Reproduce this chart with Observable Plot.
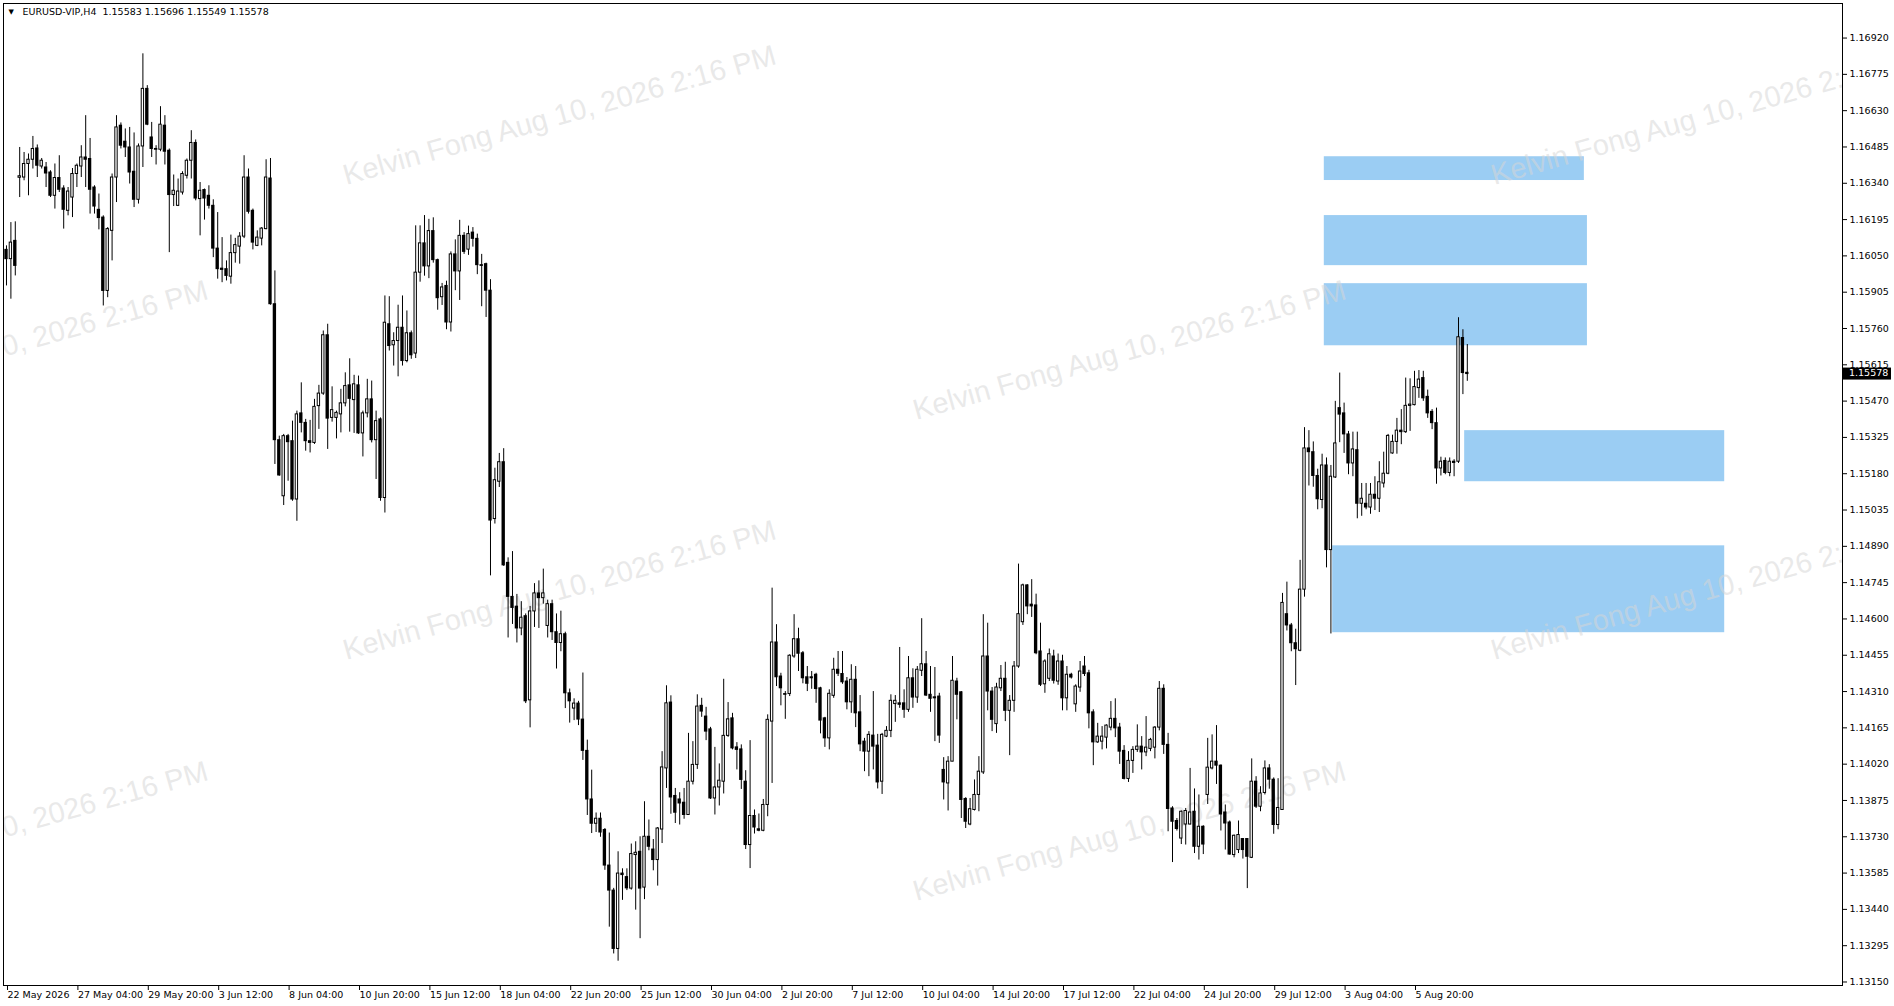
<!DOCTYPE html>
<html><head><meta charset="utf-8">
<script src="https://cdn.jsdelivr.net/npm/d3@7"></script>
<script src="https://cdn.jsdelivr.net/npm/@observablehq/plot@0.6"></script>
<style>
html,body{margin:0;padding:0;background:#fff;overflow:hidden}
#chart{position:relative;width:1894px;height:1006px}
</style></head><body><div id="chart"></div>
<script>
// ---- data (EURUSD-VIP, H4), bar index 0 = 22 May 2026 ----
const opens = [
1.16074,1.16037,1.16110,1.16362,1.16363,1.16417,1.16434,1.16479,1.16407,1.16403,
1.16383,1.16290,1.16361,1.16319,1.16230,1.16283,1.16377,1.16407,1.16443,1.16437,
1.16323,1.16234,1.16203,1.15910,1.16150,1.16363,1.16570,1.16506,1.16483,1.16386,
1.16274,1.16487,1.16717,1.16523,1.16477,1.16474,1.16570,1.16470,1.16293,1.16250,
1.16303,1.16370,1.16430,1.16501,1.16277,1.16313,1.16290,1.16250,
1.16079,1.15999,1.15997,1.15967,1.16061,1.16087,1.16127,1.16363,1.16230,1.16090,
1.16119,1.16157,1.16359,1.15857,1.15314,1.15090,1.15330,1.15310,1.15077,1.15421,
1.15383,1.15310,1.15303,1.15450,1.15500,1.15733,1.15403,1.15403,1.15417,1.15461,
1.15533,1.15474,1.15533,1.15341,1.15421,1.15477,1.15314,1.15397,1.15083,1.15777,
1.15693,1.15710,1.15763,1.15630,1.15741,1.15660,1.15983,
1.16100,1.16008,1.16149,1.16033,1.15885,1.15930,1.15784,1.16056,1.15988,1.16130,
1.16075,1.16143,1.16118,1.16013,1.16017,1.15911,1.14999,1.15148,1.15226,1.14824,
1.14688,1.14649,1.14562,1.14611,1.14275,1.14630,1.14702,1.14683,1.14572,1.14659,
1.14547,1.14504,1.14539,1.14303,1.14242,1.14262,1.14198,1.14073,1.13879,1.13782,
1.13802,1.13757,1.13615,1.13515,1.13282,1.13583,1.13569,
1.13523,1.13657,1.13670,1.13527,1.13730,1.13679,1.13637,1.13759,1.14003,1.14266,
1.13893,1.13879,1.13866,1.13817,1.13950,1.14017,1.14253,1.14210,1.14159,1.13883,
1.13927,1.13950,1.14133,1.14203,1.14087,1.14079,1.13950,1.13697,1.13813,1.13760,
1.13754,1.13857,1.14190,1.14506,1.14370,1.14297,1.14300,1.14450,1.14519,1.14463,
1.14367,1.14363,1.14377,1.14323,1.14203,1.14123,1.14293,1.14397,
1.14380,1.14350,1.14267,1.14357,1.14227,1.14110,1.14070,1.14134,1.14094,1.13950,
1.14130,1.14153,1.14260,1.14263,1.14263,1.14237,1.14363,1.14286,1.14393,1.14419,
1.14297,1.14287,1.14290,1.13997,1.13943,1.14030,1.14350,1.14307,1.13881,1.13779,
1.13837,1.13897,1.13987,1.14450,1.14310,1.14180,1.14323,1.14361,1.14233,1.14273,
1.14410,1.14587,1.14734,1.14657,1.14654,1.14470,1.14339,1.14361,
1.14450,1.14350,1.14430,1.14283,1.14377,1.14259,1.14326,1.14410,1.14383,1.14227,
1.14107,1.14110,1.14126,1.14166,1.14201,1.14166,1.14073,1.13961,1.14033,1.14077,
1.14090,1.14067,1.14081,1.14086,1.14166,1.14321,1.14097,1.13843,1.13793,1.13723,
1.13779,1.13779,1.13830,1.13690,1.13770,1.13897,1.14003,1.14030,1.14014,1.13827,
1.13787,1.13657,1.13677,1.13721,1.13721,1.13646,1.13950,1.13850,
1.13905,1.14003,1.13958,1.13777,1.13837,1.14619,1.14574,1.14503,1.14473,1.14717,
1.15281,1.15266,1.15171,1.15075,1.15213,1.14875,1.15165,1.15442,1.15421,1.15337,
1.15221,1.15274,1.15060,1.15060,1.15045,1.15096,1.15080,1.15141,1.15180,1.15261,
1.15307,1.15352,1.15346,1.15451,1.15454,1.15522,1.15562,1.15487,1.15427,1.15382,
1.15201,1.15231,1.15183,1.15228,1.15228,1.15722,1.15583];
const highs = [
1.16090,1.16183,1.16186,1.16483,1.16463,1.16457,1.16527,1.16493,1.16439,1.16423,
1.16390,1.16417,1.16450,1.16330,1.16323,1.16399,1.16417,1.16490,1.16610,1.16519,
1.16330,1.16297,1.16210,1.16163,1.16377,1.16610,1.16581,1.16557,1.16563,1.16541,
1.16497,1.16857,1.16730,1.16583,1.16490,1.16646,1.16610,1.16477,1.16373,1.16357,
1.16386,1.16437,1.16550,1.16513,1.16343,1.16317,1.16330,1.16274,
1.16223,1.16123,1.16030,1.16133,1.16120,1.16143,1.16450,1.16397,1.16237,1.16150,
1.16163,1.16434,1.16439,1.15990,1.15330,1.15337,1.15337,1.15390,1.15430,1.15543,
1.15397,1.15393,1.15477,1.15533,1.15750,1.15777,1.15527,1.15430,1.15517,1.15583,
1.15639,1.15573,1.15570,1.15430,1.15557,1.15550,1.15430,1.15403,1.15890,1.15887,
1.15743,1.15853,1.15890,1.15830,1.15750,1.16170,1.16170,
1.16211,1.16196,1.16202,1.16037,1.15940,1.15949,1.16066,1.16114,1.16192,1.16143,
1.16169,1.16163,1.16137,1.16056,1.16021,1.15955,1.15202,1.15261,1.15280,1.14844,
1.14869,1.14698,1.14669,1.14620,1.14650,1.14741,1.14752,1.14799,1.14675,1.14675,
1.14620,1.14631,1.14547,1.14320,1.14281,1.14271,1.14384,1.14116,1.13996,1.13825,
1.13825,1.13763,1.13745,1.13524,1.13670,1.13602,1.13602,
1.13701,1.13710,1.13730,1.13870,1.13797,1.13719,1.13767,1.14070,1.14333,1.14293,
1.13923,1.13906,1.13923,1.14143,1.14110,1.14297,1.14283,1.14247,1.14167,1.14087,
1.14021,1.14359,1.14266,1.14223,1.14106,1.14097,1.13994,1.14114,1.13837,1.13821,
1.13879,1.14217,1.14723,1.14577,1.14383,1.14310,1.14457,1.14617,1.14563,1.14470,
1.14410,1.14390,1.14383,1.14327,1.14207,1.14317,1.14443,1.14470,
1.14470,1.14366,1.14417,1.14410,1.14294,1.14123,1.14150,1.14310,1.14139,1.14143,
1.14170,1.14297,1.14294,1.14486,1.14317,1.14450,1.14401,1.14410,1.14601,1.14470,
1.14410,1.14406,1.14303,1.14046,1.14050,1.14450,1.14363,1.14310,1.13886,1.13883,
1.13957,1.14050,1.14617,1.14583,1.14326,1.14343,1.14414,1.14427,1.14294,1.14430,
1.14819,1.14739,1.14737,1.14757,1.14699,1.14583,1.14437,1.14480,
1.14475,1.14460,1.14455,1.14410,1.14383,1.14337,1.14430,1.14450,1.14395,1.14237,
1.14183,1.14170,1.14177,1.14270,1.14281,1.14183,1.14094,1.14070,1.14090,1.14177,
1.14130,1.14210,1.14123,1.14170,1.14350,1.14337,1.14143,1.13850,1.13803,1.13833,
1.13843,1.14003,1.13921,1.13897,1.13774,1.14123,1.14137,1.14174,1.14017,1.13857,
1.13793,1.13737,1.13793,1.13723,1.13723,1.14041,1.13970,1.13930,
1.14033,1.14018,1.13965,1.13962,1.14702,1.14747,1.14582,1.14559,1.14834,1.15364,
1.15352,1.15307,1.15198,1.15258,1.15243,1.15213,1.15469,1.15582,1.15462,1.15349,
1.15346,1.15346,1.15141,1.15141,1.15141,1.15168,1.15228,1.15266,1.15337,1.15334,
1.15401,1.15436,1.15562,1.15559,1.15589,1.15592,1.15589,1.15514,1.15436,1.15442,
1.15246,1.15243,1.15243,1.15236,1.15803,1.15755,1.15696];
const lows = [
1.15930,1.15877,1.15970,1.16283,1.16350,1.16290,1.16397,1.16363,1.16397,1.16323,
1.16283,1.16237,1.16303,1.16157,1.16210,1.16203,1.16323,1.16363,1.16323,1.16217,
1.16217,1.16154,1.15850,1.15883,1.16030,1.16263,1.16477,1.16443,1.16337,1.16243,
1.16257,1.16403,1.16570,1.16443,1.16413,1.16466,1.16413,1.16063,1.16247,1.16247,
1.16293,1.16357,1.16357,1.16270,1.16130,1.16193,1.16237,1.16043,
1.15957,1.15943,1.15950,1.15937,1.16021,1.16017,1.16119,1.16217,1.16074,1.16087,
1.16090,1.16154,1.15853,1.15217,1.15170,1.15053,1.15150,1.15070,1.14990,1.15343,
1.15270,1.15263,1.15297,1.15357,1.15493,1.15277,1.15386,1.15319,1.15343,1.15447,
1.15346,1.15341,1.15337,1.15247,1.15403,1.15303,1.15157,1.15070,1.15023,1.15670,
1.15610,1.15567,1.15610,1.15623,1.15637,1.15640,1.15945,
1.15969,1.15959,1.16021,1.15833,1.15852,1.15755,1.15746,1.15911,1.15872,1.16056,
1.16052,1.16085,1.15975,1.15847,1.15804,1.14772,1.14979,1.15125,1.14810,1.14524,
1.14578,1.14504,1.14533,1.14262,1.14165,1.14566,1.14562,1.14659,1.14524,1.14514,
1.14400,1.14469,1.14242,1.14184,1.14194,1.14174,1.14035,1.13815,1.13743,1.13747,
1.13728,1.13596,1.13369,1.13262,1.13233,1.13476,1.13515,
1.13517,1.13437,1.13323,1.13479,1.13674,1.13594,1.13533,1.13703,1.13923,1.13820,
1.13783,1.13777,1.13800,1.13817,1.13937,1.13999,1.14207,1.14114,1.13879,1.13817,
1.13853,1.13901,1.14127,1.14077,1.13997,1.13919,1.13679,1.13603,1.13741,1.13750,
1.13750,1.13810,1.13943,1.14330,1.14253,1.14199,1.14290,1.14443,1.14390,1.14341,
1.14310,1.14319,1.14263,1.14141,1.14087,1.14077,1.14283,1.14370,
1.14339,1.14237,1.14223,1.14166,1.14070,1.13990,1.13970,1.13997,1.13921,1.13899,
1.14126,1.14126,1.14187,1.14243,1.14203,1.14227,1.14243,1.14263,1.14370,1.14290,
1.14227,1.14110,1.14103,1.13877,1.13833,1.14030,1.14197,1.13803,1.13763,1.13774,
1.13833,1.13830,1.13979,1.14233,1.14150,1.14143,1.14310,1.14190,1.14054,1.14227,
1.14403,1.14574,1.14617,1.14606,1.14457,1.14330,1.14303,1.14350,
1.14340,1.14335,1.14233,1.14233,1.14360,1.14227,1.14307,1.14370,1.14161,1.14014,
1.14103,1.14077,1.14081,1.14153,1.14126,1.14019,1.13957,1.13947,1.13983,1.14067,
1.13997,1.14050,1.14070,1.14041,1.14153,1.14059,1.13750,1.13627,1.13753,1.13699,
1.13697,1.13777,1.13663,1.13637,1.13659,1.13859,1.13997,1.13939,1.13753,1.13677,
1.13657,1.13646,1.13663,1.13641,1.13523,1.13643,1.13843,1.13830,
1.13897,1.13920,1.13740,1.13758,1.13837,1.14552,1.14469,1.14334,1.14469,1.14687,
1.15131,1.15126,1.15036,1.15040,1.14804,1.14540,1.15161,1.15304,1.15261,1.15176,
1.15168,1.15000,1.15010,1.15036,1.15018,1.15033,1.15025,1.15123,1.15176,1.15258,
1.15258,1.15296,1.15341,1.15349,1.15451,1.15481,1.15469,1.15401,1.15356,1.15138,
1.15171,1.15176,1.15168,1.15168,1.15221,1.15496,1.15549];
const closes = [
1.16037,1.16103,1.16010,1.16368,1.16417,1.16434,1.16477,1.16410,1.16430,1.16379,
1.16290,1.16361,1.16314,1.16234,1.16307,1.16377,1.16410,1.16443,1.16434,1.16314,
1.16247,1.16201,1.15910,1.16157,1.16363,1.16563,1.16490,1.16483,1.16383,1.16274,
1.16487,1.16717,1.16574,1.16477,1.16474,1.16574,1.16466,1.16293,1.16310,1.16307,
1.16377,1.16430,1.16501,1.16279,1.16310,1.16279,1.16250,1.16079,
1.15997,1.15994,1.15970,1.16061,1.16093,1.16127,1.16363,1.16226,1.16103,1.16123,
1.16159,1.16363,1.15857,1.15314,1.15173,1.15330,1.15306,1.15077,1.15417,1.15383,
1.15310,1.15303,1.15447,1.15500,1.15733,1.15400,1.15434,1.15423,1.15461,1.15530,
1.15479,1.15537,1.15341,1.15421,1.15477,1.15314,1.15390,1.15083,1.15783,1.15690,
1.15710,1.15763,1.15630,1.15741,1.15653,1.15983,1.16100,
1.16008,1.16149,1.16033,1.15881,1.15924,1.15784,1.16056,1.15988,1.16130,1.16066,
1.16137,1.16118,1.16013,1.16010,1.15911,1.14993,1.15154,1.15226,1.14814,1.14688,
1.14644,1.14562,1.14605,1.14271,1.14630,1.14702,1.14683,1.14702,1.14659,1.14547,
1.14504,1.14539,1.14303,1.14271,1.14262,1.14198,1.14073,1.13879,1.13782,1.13802,
1.13747,1.13615,1.13515,1.13282,1.13583,1.13577,1.13524,
1.13661,1.13666,1.13523,1.13730,1.13690,1.13637,1.13763,1.14007,1.14263,1.13887,
1.13826,1.13863,1.13817,1.13950,1.14017,1.14250,1.14230,1.14150,1.13883,1.13927,
1.13954,1.14133,1.14199,1.14083,1.14077,1.13957,1.13697,1.13813,1.13767,1.13754,
1.13857,1.14197,1.14506,1.14367,1.14323,1.14300,1.14453,1.14519,1.14461,1.14363,
1.14341,1.14367,1.14320,1.14194,1.14123,1.14301,1.14397,1.14381,
1.14347,1.14267,1.14357,1.14223,1.14099,1.14070,1.14137,1.14090,1.13947,1.14137,
1.14153,1.14273,1.14273,1.14257,1.14237,1.14363,1.14286,1.14397,1.14419,1.14294,
1.14281,1.14283,1.14134,1.13947,1.14030,1.14353,1.14297,1.13877,1.13790,1.13840,
1.13897,1.13990,1.14450,1.14310,1.14197,1.14326,1.14361,1.14233,1.14273,1.14410,
1.14619,1.14734,1.14650,1.14650,1.14463,1.14337,1.14430,1.14459,
1.14353,1.14430,1.14283,1.14377,1.14366,1.14330,1.14390,1.14380,1.14223,1.14107,
1.14130,1.14130,1.14174,1.14201,1.14163,1.14070,1.13961,1.14033,1.14077,1.14090,
1.14067,1.14086,1.14117,1.14166,1.14321,1.14097,1.13841,1.13790,1.13761,1.13830,
1.13833,1.13827,1.13690,1.13770,1.13699,1.14006,1.14030,1.14014,1.13819,1.13783,
1.13659,1.13734,1.13737,1.13677,1.13650,1.13950,1.13850,1.13903,
1.14003,1.13958,1.13777,1.13845,1.14664,1.14574,1.14503,1.14479,1.14717,1.15281,
1.15266,1.15171,1.15078,1.15213,1.14875,1.15168,1.15301,1.15416,1.15337,1.15221,
1.15277,1.15060,1.15080,1.15045,1.15096,1.15080,1.15146,1.15180,1.15331,1.15307,
1.15352,1.15346,1.15451,1.15456,1.15526,1.15556,1.15481,1.15421,1.15382,1.15201,
1.15228,1.15183,1.15228,1.15223,1.15725,1.15582,1.15578];

// time axis labels (every 16 H4 bars)
const timeLabels = ["22 May 2026","27 May 04:00","29 May 20:00","3 Jun 12:00","8 Jun 04:00","10 Jun 20:00",
  "15 Jun 12:00","18 Jun 04:00","22 Jun 20:00","25 Jun 12:00","30 Jun 04:00","2 Jul 20:00","7 Jul 12:00",
  "10 Jul 04:00","14 Jul 20:00","17 Jul 12:00","22 Jul 04:00","24 Jul 20:00","29 Jul 12:00","3 Aug 04:00","5 Aug 20:00"];
const timeTickBars = [0,16,32,48,64,80,96,112,128,144,160,176,192,208,224,240,256,272,288,304,320];
// price axis labels
const priceTicks = [1.16920,1.16775,1.16630,1.16485,1.16340,1.16195,1.16050,1.15905,1.15760,1.15615,1.15470,
  1.15325,1.15180,1.15035,1.14890,1.14745,1.14600,1.14455,1.14310,1.14165,1.14020,1.13875,1.13730,1.13585,
  1.13440,1.13295,1.13150];
// supply / demand zones (bar index from/to, price top/bottom)
const zoneFrom = [299.5, 299.5, 299.5, 331.4, 301.4];
const zoneTo   = [358.6, 359.3, 359.3, 390.5, 390.5];
const zoneTop  = [1.16446, 1.16211, 1.15939, 1.15352, 1.14892];
const zoneBot  = [1.16351, 1.16011, 1.15691, 1.15148, 1.14545];
const symbolTitle = "EURUSD-VIP,H4  1.15583 1.15696 1.15549 1.15578";
const watermark = "Kelvin Fong Aug 10, 2026 2:16 PM";

const n = Math.min(opens.length, highs.length, lows.length, closes.length);
const bars = d3.range(n).map(i => ({i, o: opens[i], c: closes[i],
  h: Math.max(highs[i], opens[i], closes[i]), l: Math.min(lows[i], opens[i], closes[i])}));
const zones = zoneFrom.map((f, k) => ({f, t: zoneTo[k], top: zoneTop[k], bot: zoneBot[k]}));
const bull = bars.filter(d => d.c > d.o);
const HW = 0.38;

// layout of the plot frame (pixels) and its domains
const W = 1894, H = 1006, mL = 3, mR = 52, mT = 3, mB = 21;
const xDomain = [-0.68, 417.27], yDomain = [1.13136, 1.17058];
// watermark tiling, placed in frame pixels and mapped back to data units
const toX = d3.scaleLinear().domain([mL, W - mR]).range(xDomain);
const toY = d3.scaleLinear().domain([H - mB, mT]).range(yDomain);
const wmTiles = [[559,115],[1707,115],[-9,350],[1129,350],[559,590],[1707,590],[-9,831],[1129,831]]
  .map(([px, py]) => ({x: toX(px), y: toY(py)}));

const chart = Plot.plot({
  width: W, height: H,
  marginLeft: mL, marginRight: mR, marginTop: mT, marginBottom: mB,
  style: {fontFamily: "'DejaVu Sans', sans-serif", fontSize: "9.5px", color: "#000", background: "#fff"},
  x: {type: "linear", domain: xDomain, label: null},
  y: {domain: yDomain, label: null},
  marks: [
    Plot.rect(zones, {x1: "f", x2: "t", y1: "bot", y2: "top", fill: "#9BCDF3"}),
    Plot.text(wmTiles, {x: "x", y: "y", text: () => watermark, rotate: -15.7, fill: "#d6d6d6", fillOpacity: 0.55,
      fontSize: 29, fontFamily: "'Liberation Sans', Arial, sans-serif", clip: true}),
    Plot.ruleX(bars, {x: "i", y1: "l", y2: "h", stroke: "#000", strokeWidth: 1}),
    Plot.rect(bars, {x1: d => d.i - HW, x2: d => d.i + HW, y1: d => Math.min(d.o, d.c), y2: d => Math.max(d.o, d.c),
      fill: "#000", insetTop: -0.5, insetBottom: -0.5}),
    Plot.rect(bull, {x1: d => d.i - HW, x2: d => d.i + HW, y1: "o", y2: "c",
      fill: "#fff", insetLeft: 1, insetRight: 1, insetTop: 0.5, insetBottom: 0.5}),
    Plot.axisY(priceTicks, {anchor: "right", tickFormat: d3.format(".5f"), tickSize: 4, tickPadding: 3, label: null}),
    Plot.axisX(timeTickBars, {anchor: "bottom", tickFormat: d => timeLabels[timeTickBars.indexOf(d)],
      tickSize: 5, tickPadding: 1, textAnchor: "start", dx: 1, label: null}),
    Plot.frame({stroke: "#000"}),
    Plot.text([symbolTitle], {frameAnchor: "top-left", dx: 19, dy: 5, textAnchor: "start", lineAnchor: "top", fontSize: 9.5}),
    Plot.text(["▼"], {frameAnchor: "top-left", dx: 5, dy: 6, textAnchor: "start", lineAnchor: "top", fontSize: 7})
  ]
});
document.getElementById("chart").appendChild(chart);

// current price marker on the price axis
const svg = d3.select(chart);
const ys = chart.scale("y");
const last = bars[bars.length - 1];
const yLast = ys.apply(last.c);
const g = svg.append("g");
g.append("rect").attr("x", W - mR + 1).attr("y", yLast - 6).attr("width", 48).attr("height", 12).attr("fill", "#000");
g.append("text").attr("x", W - mR + 7).attr("y", yLast).attr("dominant-baseline", "middle").attr("text-anchor", "start")
  .attr("font-family", "'DejaVu Sans', sans-serif").attr("font-size", 9.5).attr("fill", "#fff")
  .text(d3.format(".5f")(last.c));
</script>
</body></html>
